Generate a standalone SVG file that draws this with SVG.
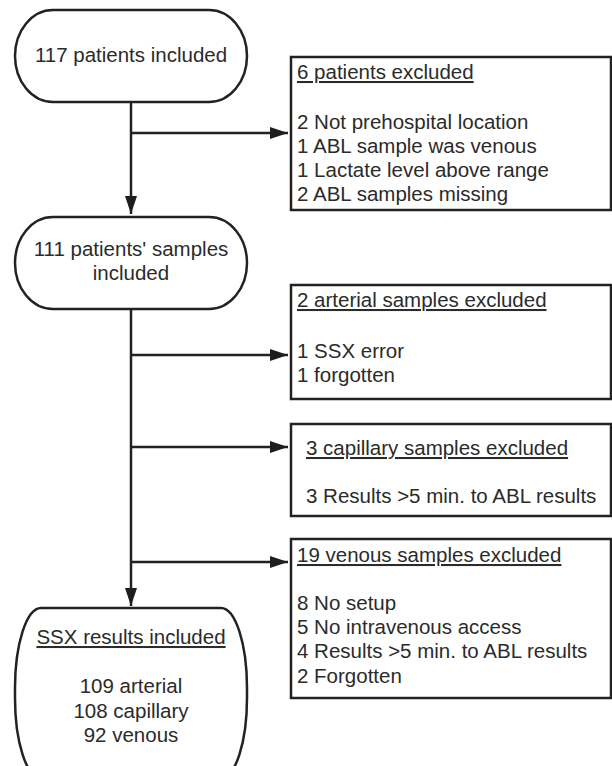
<svg xmlns="http://www.w3.org/2000/svg" width="612" height="766" viewBox="0 0 612 766">
<defs>
<marker id="ah" viewBox="0 0 18 12" refX="18" refY="6" markerWidth="18" markerHeight="12" markerUnits="userSpaceOnUse" orient="auto">
<path d="M0,0 L18,6 L0,12 Z" fill="#1e1e1e"/>
</marker>
<style>
.n{fill:#fff;stroke:#222;stroke-width:2.5}
.b{fill:#fff;stroke:#222;stroke-width:2.5}
.c{fill:none;stroke:#222;stroke-width:2.5}
text{font-family:"Liberation Sans",Arial,sans-serif;font-size:20.5px;fill:#2b2b2b}
.m{text-anchor:middle}
.u{text-decoration:underline}
</style>
</defs>
<rect width="612" height="766" fill="#fff"/>
<g id="connectors">
<line class="c" x1="131" y1="102" x2="131" y2="214" marker-end="url(#ah)"/>
<line class="c" x1="131" y1="133" x2="288" y2="133" marker-end="url(#ah)"/>
<line class="c" x1="131" y1="309" x2="131" y2="606" marker-end="url(#ah)"/>
<line class="c" x1="131" y1="355" x2="288" y2="355" marker-end="url(#ah)"/>
<line class="c" x1="131" y1="447" x2="288" y2="447" marker-end="url(#ah)"/>
<line class="c" x1="131" y1="562" x2="288" y2="562" marker-end="url(#ah)"/>
</g>
<g id="n1">
<rect class="n" x="15" y="10" width="232" height="92" rx="38" ry="46"/>
<text class="m" x="131" y="62">117 patients included</text>
</g>
<g id="n2">
<rect class="n" x="15" y="217" width="232" height="92" rx="38" ry="46"/>
<text class="m" x="131" y="256">111 patients' samples</text>
<text class="m" x="131" y="280">included</text>
</g>
<g id="n3">
<rect class="n" x="15" y="608" width="232" height="170" rx="26" ry="80"/>
<text class="m u" x="131" y="644">SSX results included</text>
<text class="m" x="131" y="693">109 arterial</text>
<text class="m" x="131" y="718">108 capillary</text>
<text class="m" x="131" y="742">92 venous</text>
</g>
<g id="b1">
<rect class="b" x="291" y="57" width="320" height="153"/>
<text class="u" x="297" y="79">6 patients excluded</text>
<text x="297" y="129">2 Not prehospital location</text>
<text x="297" y="153">1 ABL sample was venous</text>
<text x="297" y="177">1 Lactate level above range</text>
<text x="297" y="201">2 ABL samples missing</text>
</g>
<g id="b2">
<rect class="b" x="291" y="285" width="320" height="114"/>
<text class="u" x="297" y="307">2 arterial samples excluded</text>
<text x="297" y="358">1 SSX error</text>
<text x="297" y="382">1 forgotten</text>
</g>
<g id="b3">
<rect class="b" x="291" y="424" width="320" height="92"/>
<text class="u" x="306" y="455">3 capillary samples excluded</text>
<text x="306" y="503">3 Results &gt;5 min. to ABL results</text>
</g>
<g id="b4">
<rect class="b" x="291" y="539" width="320" height="159"/>
<text class="u" x="297" y="562">19 venous samples excluded</text>
<text x="297" y="610">8 No setup</text>
<text x="297" y="634">5 No intravenous access</text>
<text x="297" y="658">4 Results &gt;5 min. to ABL results</text>
<text x="297" y="683">2 Forgotten</text>
</g>
</svg>
